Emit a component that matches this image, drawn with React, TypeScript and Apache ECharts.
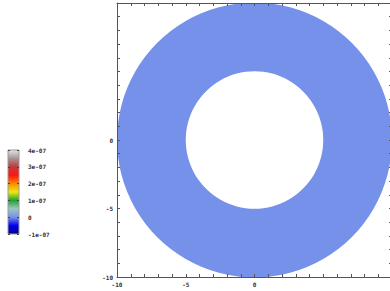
import React, { useEffect, useRef } from "react";
import * as echarts from "echarts";

// ring data: [centerX, centerY, innerRadius, outerRadius, value]
const ringData = [[0, 0, 5, 10, 0]];

// axis setup
const axisMin = -10;
const axisMax = 10;
const axisStep = 1;
const shownLabels = [-10, -5, 0];

// colorbar
const cbMin = -1e-7;
const cbMax = 4e-7;
const cbStep = 1e-7;
const cbLabels = ["-1e-07", "0", "1e-07", "2e-07", "3e-07", "4e-07"];

// colormap (bottom -> top, evenly spaced)
const cmap = [
  "#00008a",
  "#0000ee",
  "#7691ea",
  "#98c8c4",
  "#24a034",
  "#eaea10",
  "#ff8a00",
  "#ff1414",
  "#c23a3a",
  "#a89494",
  "#e4e4e4",
];

const font = {
  fontFamily: "DejaVu Sans Mono",
  fontWeight: "bold" as const,
  fontSize: 6,
  color: "#333",
};

export default function App() {
  const ref = useRef<HTMLDivElement>(null);
  useEffect(() => {
    if (!ref.current) return;
    const chart = echarts.init(ref.current, undefined, { renderer: "svg" });
    const lineStyle = { color: "#555", width: 1 };
    const mainAxisBase = (position: string, showLabel: boolean) => ({
      type: "value",
      position,
      min: axisMin,
      max: axisMax,
      interval: axisStep,
      z: 5,
      axisLine: { show: true, onZero: false, lineStyle },
      axisTick: { show: true, inside: true, length: 3, lineStyle },
      splitLine: { show: false },
      axisLabel: {
        show: showLabel,
        margin: 4,
        showMinLabel: true,
        ...font,
        formatter: (v: number) =>
          shownLabels.indexOf(Math.round(v)) >= 0 ? String(Math.round(v)) : "",
      },
    });
    const stops = cmap.map((c, i) => ({ offset: i / (cmap.length - 1), color: c }));
    chart.setOption({
      animation: false,
      grid: [
        { left: 117, top: 3, width: 275, height: 274, outerBoundsMode: "none", containLabel: false },
        { left: 8, top: 150, width: 11, height: 84, outerBoundsMode: "none", containLabel: false },
      ],
      xAxis: [
        { ...mainAxisBase("bottom", true), gridIndex: 0 },
        { ...mainAxisBase("top", false), gridIndex: 0 },
        { type: "value", gridIndex: 1, min: 0, max: 1, show: false },
      ],
      yAxis: [
        { ...mainAxisBase("left", true), gridIndex: 0 },
        { ...mainAxisBase("right", false), gridIndex: 0 },
        {
          type: "value",
          gridIndex: 1,
          position: "right",
          min: cbMin,
          max: cbMax,
          interval: cbStep,
          z: 5,
          axisLine: { show: false, onZero: false },
          axisTick: { show: true, inside: true, length: 2, lineStyle: { color: "#444" } },
          splitLine: { show: false },
          axisLabel: {
            margin: 9,
            ...font,
            formatter: (v: number) => cbLabels[Math.round((v - cbMin) / cbStep)] ?? "",
          },
        },
        {
          type: "value",
          gridIndex: 1,
          position: "left",
          min: cbMin,
          max: cbMax,
          interval: cbStep,
          z: 5,
          axisLine: { show: false, onZero: false },
          axisTick: { show: true, inside: true, length: 2, lineStyle: { color: "#444" } },
          splitLine: { show: false },
          axisLabel: { show: false },
        },
      ],
      visualMap: {
        show: false,
        type: "continuous",
        seriesIndex: 0,
        dimension: 4,
        min: cbMin,
        max: cbMax,
        inRange: { color: cmap },
      },
      series: [
        {
          type: "custom",
          xAxisIndex: 0,
          yAxisIndex: 0,
          data: ringData,
          clip: true,
          renderItem: (params: any, api: any) => {
            const c = api.coord([api.value(0), api.value(1)]);
            const r = api.size([api.value(3), 0])[0];
            const r0 = api.size([api.value(2), 0])[0];
            return {
              type: "ring",
              shape: { cx: c[0], cy: c[1], r, r0 },
              style: { fill: api.visual("color") },
            };
          },
        },
        {
          type: "custom",
          xAxisIndex: 2,
          yAxisIndex: 2,
          z: 1,
          data: [[0, cbMin, cbMax]],
          renderItem: (params: any, api: any) => {
            const p0 = api.coord([0, api.value(2)]);
            const p1 = api.coord([1, api.value(1)]);
            return {
              type: "rect",
              shape: { x: p0[0], y: p0[1], width: p1[0] - p0[0], height: p1[1] - p0[1] },
              style: {
                fill: new echarts.graphic.LinearGradient(0, 1, 0, 0, stops),
                stroke: "#9a9a9a",
                lineWidth: 1,
              },
            };
          },
        },
      ],
    });
    return () => chart.dispose();
  }, []);
  return (
    <div
      ref={ref}
      style={{ position: "fixed", left: 0, top: 0, width: 390, height: 291, background: "#fff" }}
    />
  );
}
